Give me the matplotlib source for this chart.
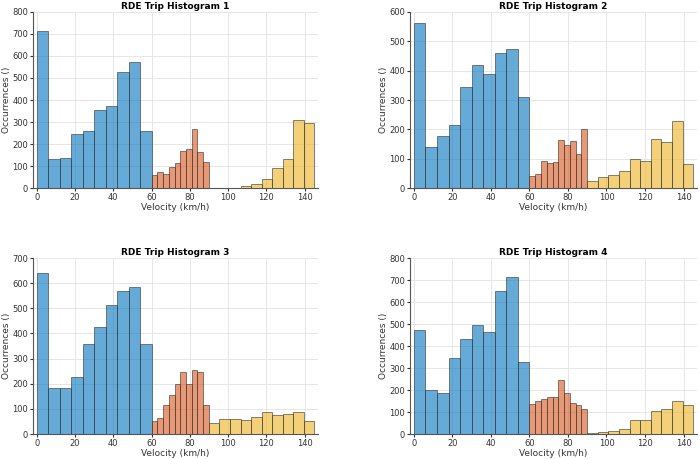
import matplotlib
matplotlib.use("Agg")
import matplotlib.pyplot as plt
import numpy as np

blue_edges = np.arange(0, 61, 6)
orange_edges = np.arange(60, 91, 3)
yellow_edges = np.linspace(90, 145, 11)

titles = ["RDE Trip Histogram 1", "RDE Trip Histogram 2", "RDE Trip Histogram 3", "RDE Trip Histogram 4"]
blue = [
    [712, 132, 137, 245, 260, 355, 373, 528, 573, 257],
    [562, 140, 178, 215, 345, 420, 388, 460, 473, 310],
    [642, 182, 183, 225, 357, 425, 515, 567, 585, 357],
    [475, 200, 188, 345, 433, 495, 462, 650, 713, 328],
]
orange = [
    [58, 75, 62, 95, 115, 168, 178, 270, 165, 120],
    [40, 47, 92, 85, 90, 162, 148, 160, 115, 200],
    [52, 65, 115, 157, 200, 248, 198, 255, 248, 115],
    [135, 150, 157, 168, 167, 247, 187, 143, 130, 115],
]
yellow = [
    [0, 2, 2, 8, 20, 40, 93, 130, 310, 295],
    [25, 37, 43, 58, 100, 93, 168, 158, 227, 81],
    [42, 58, 60, 57, 66, 89, 76, 80, 88, 50],
    [5, 8, 15, 22, 65, 65, 105, 113, 150, 133],
]
ylims = [800, 600, 700, 800]

fig = plt.figure(figsize=(7, 4.59), dpi=100)
W, H = 700, 459
boxes = [(33, 12, 318, 188), (410, 12, 697, 188), (33, 258, 318, 434), (410, 258, 697, 434)]
cols = [("#0072BD", blue, blue_edges), ("#D95319", orange, orange_edges), ("#EDB120", yellow, yellow_edges)]
for i, (l, t, r, b) in enumerate(boxes):
    ax = fig.add_axes([l / W, 1 - b / H, (r - l) / W, (b - t) / H])
    for c, data, edges in cols:
        ax.bar(edges[:-1], data[i], width=np.diff(edges), align="edge", color=c, alpha=0.6,
               edgecolor="#333333", linewidth=0.7, zorder=3)
    ax.set_xlim(-2, 147)
    ax.set_ylim(0, ylims[i])
    ax.set_xticks(range(0, 141, 20))
    ax.set_yticks(range(0, ylims[i] + 1, 100))
    ax.grid(True, color="#e6e6e6", linewidth=0.7, zorder=0)
    for s in ["top", "right"]:
        ax.spines[s].set_visible(False)
    for s in ["left", "bottom"]:
        ax.spines[s].set_color("#555555")
    ax.tick_params(labelsize=6, colors="#333333", length=2, pad=1.5)
    ax.set_title(titles[i], fontsize=6.5, fontweight="bold", pad=2)
    ax.set_xlabel("Velocity (km/h)", fontsize=6.5, color="#333333", labelpad=1)
    ax.set_ylabel("Occurrences ()", fontsize=6.5, color="#333333", labelpad=1)

fig.savefig("out.png", dpi=100)
